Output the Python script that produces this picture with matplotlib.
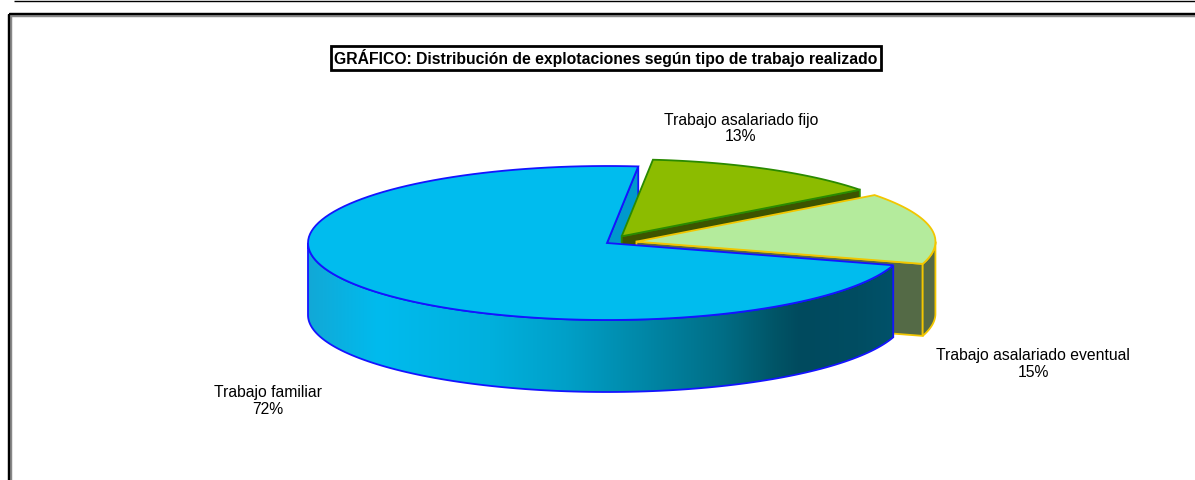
import numpy as np
import matplotlib
matplotlib.use('Agg')
import matplotlib.pyplot as plt
from matplotlib.patches import Polygon
from matplotlib.colors import LinearSegmentedColormap

# data
labels = ['Trabajo asalariado fijo', 'Trabajo asalariado eventual', 'Trabajo familiar']
values = [13, 15, 72]
explode = [0.1, 0.1, 0.0]
top_colors = ['#8cbc00', '#b4eb9c', '#00bcee']
edge_colors = ['#2a8a00', '#f2c600', '#1414ff']
side_colors = ['#3d5400', '#546a46', '#0099cc']
label_xy = [(741, 128.5), (1033, 364), (268, 401)]
title = 'GRÁFICO: Distribución de explotaciones según tipo de trabajo realizado'

# pie geometry in pixel units
cx, cy = 607, 243
rx, ry = 299, 77
depth = 72
start = 84

plt.rcParams['font.family'] = ['Liberation Sans', 'DejaVu Sans']

fig = plt.figure(figsize=(11.95, 4.8), dpi=100)
ax = fig.add_axes([0, 0, 1, 1])
ax.set_xlim(0, 1195)
ax.set_ylim(480, 0)
ax.axis('off')


def arc(ox, oy, a0, a1, h=0, n=120):
    t = np.radians(np.linspace(a0, a1, n))
    return np.column_stack([ox + rx * np.cos(t), oy - ry * np.sin(t) + h])


def front_parts(a1, a0):
    # pieces of [a1, a0] lying in the front half of the ellipse
    parts = []
    for k in range(-3, 3):
        lo, hi = 180 + 360 * k, 360 + 360 * k
        b0, b1 = max(a1, lo), min(a0, hi)
        if b1 - b0 > 0.2:
            parts.append((b0, b1))
    return parts


side_cmap = LinearSegmentedColormap.from_list('side', [
    (0.0, '#12a8d6'), (0.12, '#00bbee'), (0.31, '#00b0dd'), (0.44, '#00a0c8'),
    (0.57, '#0088a8'), (0.71, '#006d85'), (0.80, '#005466'), (0.84, '#004a5e'),
    (0.94, '#004d62'), (1.0, '#00526a')], N=1024)

total = float(sum(values))
faces = []   # (sort key, kind, slice, polygon)
tops = []
a0 = start
for i, v in enumerate(values):
    a1 = a0 - 360.0 * v / total
    m = np.radians((a0 + a1) / 2)
    ox = cx + explode[i] * rx * np.cos(m)
    oy = cy - explode[i] * ry * np.sin(m)

    tops.append(np.vstack([[ox, oy], arc(ox, oy, a0, a1)]))

    # radial faces that look toward the viewer
    for a, nrm in ((a1, a1 - 90), (a0, a0 + 90)):
        if np.sin(np.radians(nrm)) < 0:
            p = arc(ox, oy, a, a, n=1)[0]
            poly = np.array([[ox, oy], p, p + [0, depth], [ox, oy + depth]])
            faces.append(((oy + p[1]) / 2, 'flat', i, poly))

    # outer rim
    for b0, b1 in front_parts(a1, a0):
        up = arc(ox, oy, b0, b1)
        down = arc(ox, oy, b1, b0, h=depth)
        poly = np.vstack([up, down])
        key = arc(ox, oy, (b0 + b1) / 2, (b0 + b1) / 2, n=1)[0][1]
        faces.append((key, 'grad' if i == 2 else 'flat', i, poly))
    a0 = a1

faces.sort(key=lambda f: f[0])
for key, kind, i, poly in faces:
    if kind == 'grad':
        patch = Polygon(poly, closed=True, facecolor='none', edgecolor='none')
        ax.add_patch(patch)
        x0, x1 = poly[:, 0].min(), poly[:, 0].max()
        y0, y1 = poly[:, 1].min(), poly[:, 1].max()
        grad = np.linspace(0, 1, 1024).reshape(1, -1)
        im = ax.imshow(grad, cmap=side_cmap, extent=[x0, x1, y1, y0], aspect='auto',
                       interpolation='bilinear', zorder=1)
        im.set_clip_path(patch)
        ax.add_patch(Polygon(poly, closed=True, facecolor='none', edgecolor=edge_colors[i], lw=1.3, zorder=2))
    else:
        ax.add_patch(Polygon(poly, closed=True, facecolor=side_colors[i], edgecolor=edge_colors[i], lw=1.3, zorder=1))

for i, poly in enumerate(tops):
    ax.add_patch(Polygon(poly, closed=True, facecolor=top_colors[i], edgecolor=edge_colors[i], lw=1.3, zorder=3))

# data labels
for (x, y), lab, v in zip(label_xy, labels, values):
    ax.text(x, y, '%s\n%d%%' % (lab, v), ha='center', va='center', fontsize=11.3,
            linespacing=1.12, color='black', zorder=5)

# title box
ax.text(606, 58, title, ha='center', va='center', fontsize=11.3, fontweight='bold',
        bbox=dict(boxstyle='square,pad=0.2', facecolor='white', edgecolor='black', lw=2.0), zorder=5)

# frame
ax.plot([14, 1195], [1, 1], color='black', lw=1.0, solid_capstyle='butt')
ax.plot([10, 1195], [15, 15], color='#888888', lw=3.2, solid_capstyle='butt')
ax.plot([10, 10], [15, 480], color='#888888', lw=3.2, solid_capstyle='butt')
ax.plot([9.5, 1195], [14, 14], color='black', lw=1.6, solid_capstyle='butt')
ax.plot([9.5, 9.5], [14, 480], color='black', lw=1.6, solid_capstyle='butt')

fig.savefig('out.png', dpi=100)
